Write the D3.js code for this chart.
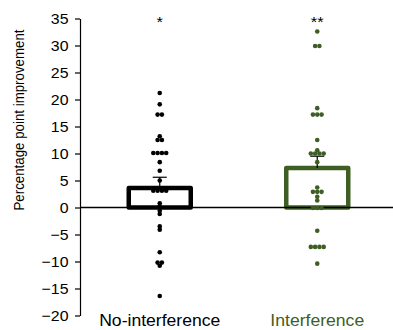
<!DOCTYPE html>
<html>
<head>
    <meta charset="utf-8">
    <title>Percentage point improvement</title>
    <style>
        body { margin: 0; background: #fff; }
        text { font-family: "Liberation Sans", Arial, sans-serif; }
    </style>
</head>
<body>
    <script src="https://d3js.org/d3.v7.min.js"></script>
    <script>
        // Data
        const categories = ["No-interference", "Interference"];
        const colors = ["#000000", "#3e5e24"];
        const noInterference = [21.2, 19.1, 17.2, 17.2, 13.2, 12.5, 12.5, 10.1, 10.1, 10.1, 10.1,
            8.4, 6.8, 5.0, 3.1, 3.1, 3.1, 3.1, 0.8, 0.2, -0.6, -1.2, -3.5, -4.1,
            -8.3, -10.2, -10.2, -10.8, -16.4];
        const interference = [32.6, 29.9, 29.9, 18.4, 17.2, 17.2, 17.2, 12.5, 10.6, 10.0, 10.0, 10.0, 10.0,
            8.4, 3.7, 2.9, 2.9, 2.9, 2.0, 1.3, -0.1, -0.1, -0.1, -4.3,
            -7.3, -7.3, -7.3, -7.3, -10.4];
        const means = [3.6, 7.3];
        const sems = [2.0, 2.2];
        const stars = ["*", "**"];
        const yTicks = [-20, -15, -10, -5, 0, 5, 10, 15, 20, 25, 30, 35];

        const width = 393;
        const height = 330;

        const svg = d3.select("body")
            .append("svg")
            .attr("width", width)
            .attr("height", height);

        const y = d3.scaleLinear().domain([-20, 35]).range([315.5, 18.5]);
        const x = d3.scalePoint().domain(categories).range([81, 396]).padding(0.5);
        const axisX = 80;

        // y axis
        const yAxis = svg.append("g")
            .attr("transform", `translate(${axisX},0)`)
            .call(d3.axisLeft(y).tickValues(yTicks).tickSize(5).tickSizeOuter(0).tickPadding(6.5));
        yAxis.select(".domain").attr("stroke", "#000").attr("stroke-width", 1.2);
        yAxis.selectAll(".tick line").attr("stroke", "#000").attr("stroke-width", 1.2);
        yAxis.selectAll(".tick text")
            .attr("font-size", 15)
            .attr("fill", "#000")
            .attr("x", -11.5 / 1.06)
            .attr("transform", "scale(1.06,1)");

        svg.append("text")
            .attr("transform", "translate(24,120) rotate(-90) scale(1,1.15)")
            .attr("text-anchor", "middle")
            .attr("font-size", 13.3)
            .text("Percentage point improvement");

        const series = [noInterference, interference];
        const barHalf = 31;

        // bars
        categories.forEach((c, i) => {
            svg.append("rect")
                .attr("x", x(c) - barHalf)
                .attr("y", y(means[i]))
                .attr("width", barHalf * 2)
                .attr("height", y(0) - y(means[i]))
                .attr("fill", "#fff")
                .attr("stroke", colors[i])
                .attr("stroke-width", 4.5)
                .attr("stroke-linejoin", "round");
        });

        // zero line
        svg.append("line")
            .attr("x1", axisX).attr("x2", width)
            .attr("y1", y(0)).attr("y2", y(0))
            .attr("stroke", "#000")
            .attr("stroke-width", 1.6);

        // error bars (upper half)
        categories.forEach((c, i) => {
            const top = y(means[i] + sems[i]);
            svg.append("line")
                .attr("x1", x(c)).attr("x2", x(c))
                .attr("y1", y(means[i])).attr("y2", top)
                .attr("stroke", "#000").attr("stroke-width", 1.2);
            svg.append("line")
                .attr("x1", x(c) - 7).attr("x2", x(c) + 7)
                .attr("y1", top).attr("y2", top)
                .attr("stroke", "#000").attr("stroke-width", 1.2);
        });

        // dots, tied values spread side by side
        const spacing = 4.3;
        series.forEach((vals, i) => {
            const groups = d3.group(vals, v => v);
            const pts = [];
            groups.forEach((arr, v) => {
                arr.forEach((d, k) => pts.push({ v: v, off: (k - (arr.length - 1) / 2) * spacing }));
            });
            svg.append("g").selectAll("circle")
                .data(pts)
                .join("circle")
                .attr("cx", d => x(categories[i]) + d.off)
                .attr("cy", d => y(d.v))
                .attr("r", 2.3)
                .attr("fill", colors[i]);
        });

        // significance stars
        categories.forEach((c, i) => {
            svg.append("text")
                .attr("transform", `translate(${x(c)},27) scale(1.1,1)`)
                .attr("text-anchor", "middle")
                .attr("font-size", 15)
                .text(stars[i]);
        });

        // category labels
        categories.forEach((c, i) => {
            svg.append("text")
                .attr("transform", `translate(${x(c)},326) scale(1.1,1)`)
                .attr("text-anchor", "middle")
                .attr("font-size", 16)
                .attr("fill", colors[i])
                .text(c);
        });
    </script>
</body>
</html>
